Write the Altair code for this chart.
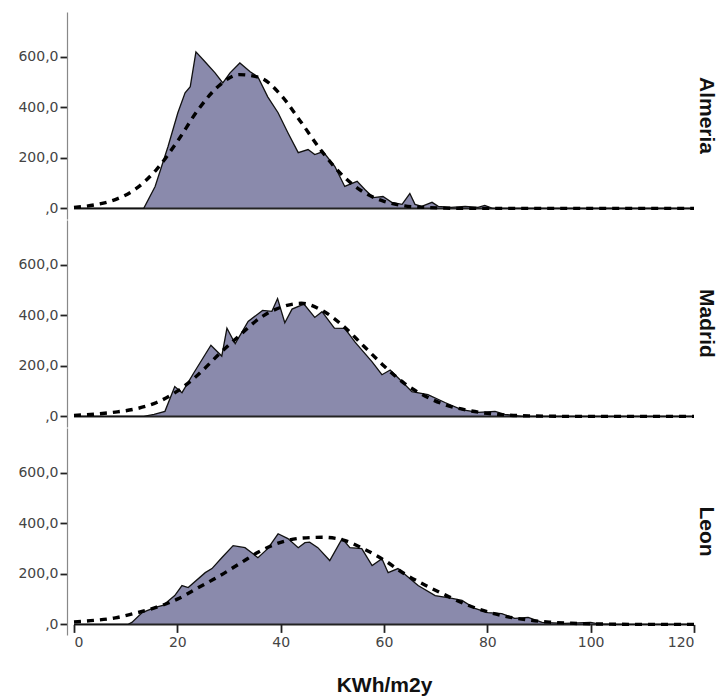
import altair as alt
import pandas as pd

cities = ["Almeria", "Madrid", "Leon"]

# Frequency polygons (KWh/m2y, count)
almeria_x = [0, 13.5, 15.7, 18.2, 20.1, 21.5, 22.5, 23.6, 25.4, 27.3, 28.8, 30.2, 32.1, 34.1, 35.6,
             37.5, 39.5, 41.4, 43.4, 45.3, 46.6, 48.2, 50.5, 52.4, 54.8, 56.3, 57.9, 59.8, 61.5,
             63.5, 65.0, 66.0, 67.3, 69.3, 70.5, 73.0, 75.7, 78.2, 79.5, 81.0, 120]
almeria_y = [0, 0, 87, 245, 379, 458, 482, 620, 580, 537, 497, 537, 576, 541, 521,
             442, 379, 300, 221, 233, 213, 225, 166, 87, 107, 75, 43, 47, 24,
             16, 59, 16, 8, 24, 8, 4, 8, 4, 12, 0, 0]

madrid_x = [0, 13.5, 15.5, 17.6, 19.5, 20.9, 23.2, 26.5, 28.6, 29.6, 31.2, 33.7, 36.5, 38.3,
            39.4, 40.8, 42.2, 44.5, 46.6, 48.0, 50.4, 52.4, 54.4, 57.7, 59.6, 61.2, 63.5,
            65.4, 68.5, 71.8, 75.0, 78.2, 81.5, 83.4, 86.7, 120]
madrid_y = [0, 0, 8, 20, 118, 94, 173, 282, 239, 349, 288, 376, 420, 416,
            467, 371, 425, 445, 392, 415, 350, 349, 294, 216, 165, 184, 137,
            98, 86, 55, 27, 16, 20, 8, 0, 0]

leon_x = [0, 10.5, 11.2, 13.2, 15.7, 17.2, 19.5, 20.9, 22.1, 25.4, 26.7, 28.6, 30.8, 33.1,
          34.4, 35.6, 37.5, 39.5, 41.4, 43.4, 44.7, 45.6, 47.2, 49.5, 51.9, 53.4, 55.7,
          57.7, 59.6, 60.8, 62.7, 66.6, 69.9, 73.2, 75.1, 77.6, 80.1, 82.8, 85.3, 87.9,
          90.6, 95.0, 100.0, 101.5, 105.0, 120]
leon_y = [0, 0, 8, 47, 67, 75, 114, 154, 146, 205, 221, 264, 312, 304,
          284, 264, 300, 359, 340, 304, 324, 326, 304, 253, 340, 304, 300,
          233, 260, 205, 221, 154, 114, 103, 95, 63, 47, 43, 24, 28,
          8, 4, 8, 2, 0, 0]

# Fitted normal curves, read every 4 units
normal_x = [0, 4, 8, 12, 16, 20, 24, 28, 32, 36, 40, 44, 48, 52, 56, 60, 64, 68, 72, 76, 80,
            84, 88, 92, 96, 100, 104, 108, 112, 116, 120]
almeria_normal = [4, 14, 35, 78, 155, 265, 390, 485, 530, 518, 450, 340, 225, 130, 65, 28, 10, 4, 1, 0, 0,
                  0, 0, 0, 0, 0, 0, 0, 0, 0, 0]
madrid_normal = [4, 9, 17, 30, 55, 100, 165, 245, 320, 390, 432, 448, 420, 360, 280, 200, 130, 80, 45, 25, 12,
                 5, 2, 1, 0, 0, 0, 0, 0, 0, 0]
leon_normal = [10, 16, 26, 45, 68, 100, 145, 190, 240, 290, 325, 342, 345, 335, 300, 255, 200, 155, 115, 78, 50,
               30, 17, 9, 5, 2, 1, 0, 0, 0, 0]

rows = []
for city, xs, ys in [("Almeria", almeria_x, almeria_y), ("Madrid", madrid_x, madrid_y), ("Leon", leon_x, leon_y)]:
    for x, y in zip(xs, ys):
        rows.append({"city": city, "series": "poly", "x": x, "y": y})
for city, ys in [("Almeria", almeria_normal), ("Madrid", madrid_normal), ("Leon", leon_normal)]:
    for x, y in zip(normal_x, ys):
        rows.append({"city": city, "series": "normal", "x": x, "y": y})
df = pd.DataFrame(rows)

FILL = "#8a8aac"
W, H = 620, 207

x_enc = alt.X("x:Q", scale=alt.Scale(domain=[0, 120], nice=False, zero=False, padding=0),
              axis=alt.Axis(values=[0, 20, 40, 60, 80, 100, 120], title="KWh/m2y", domain=False,
                            grid=False, offset=-10.6, tickSize=8, labelPadding=3,
                            titleFont="Liberation Sans", titleFontSize=21, titleFontWeight="bold",
                            titleColor="#111", titlePadding=25))
y_enc = alt.Y("y:Q", scale=alt.Scale(domain=[-42, 778], nice=False, zero=False, padding=0),
              axis=alt.Axis(values=[0, 200, 400, 600], title=None, grid=False, tickSize=7,
                            labelPadding=2, minExtent=58, maxExtent=58,
                            labelExpr="datum.value == 0 ? ',0' : replace(format(datum.value, '.1f'), '.', ',')"))

base = alt.Chart()

area = base.mark_area(color=FILL, opacity=1, interpolate="linear").encode(
    x=x_enc, y=y_enc, y2=alt.datum(0)
).transform_filter("datum.series == 'poly'")

zero_rule = base.mark_rule(color="#222", strokeWidth=2).encode(
    x=alt.datum(0), x2=alt.datum(120), y=alt.datum(0)
).transform_filter("datum.series == 'poly' && datum.x == 0")

poly_line = base.mark_line(color="#111", strokeWidth=1.3).encode(
    x="x:Q", y="y:Q"
).transform_filter("datum.series == 'poly'")

normal_line = base.mark_line(color="#000", strokeWidth=3.4, strokeDash=[7, 6], interpolate="monotone").encode(
    x="x:Q", y="y:Q"
).transform_filter("datum.series == 'normal'")

city_label = base.mark_text(angle=90, align="center", baseline="middle", font="Liberation Sans",
                            fontSize=21, fontWeight="bold", color="#111").encode(
    x=alt.value(W + 12), y=alt.value(H / 2), text="city:N"
).transform_filter("datum.series == 'poly' && datum.x == 0")

layer = alt.layer(area, zero_rule, poly_line, normal_line, city_label).properties(width=W, height=H)

chart = layer.facet(
    row=alt.Row("city:N", sort=cities, header=alt.Header(title=None, labels=False)),
    data=df,
    spacing=1,
).properties(
    padding={"left": 9, "top": 12, "right": 3, "bottom": 0}
).configure_view(
    stroke=None
).configure_axis(
    domainColor="#888", domainWidth=1.2, tickColor="#222", tickWidth=1.8,
    labelFont="DejaVu Sans", labelFontSize=14, labelColor="#444"
)

chart.save("out.html", embed_options={"renderer": "svg", "actions": False})
